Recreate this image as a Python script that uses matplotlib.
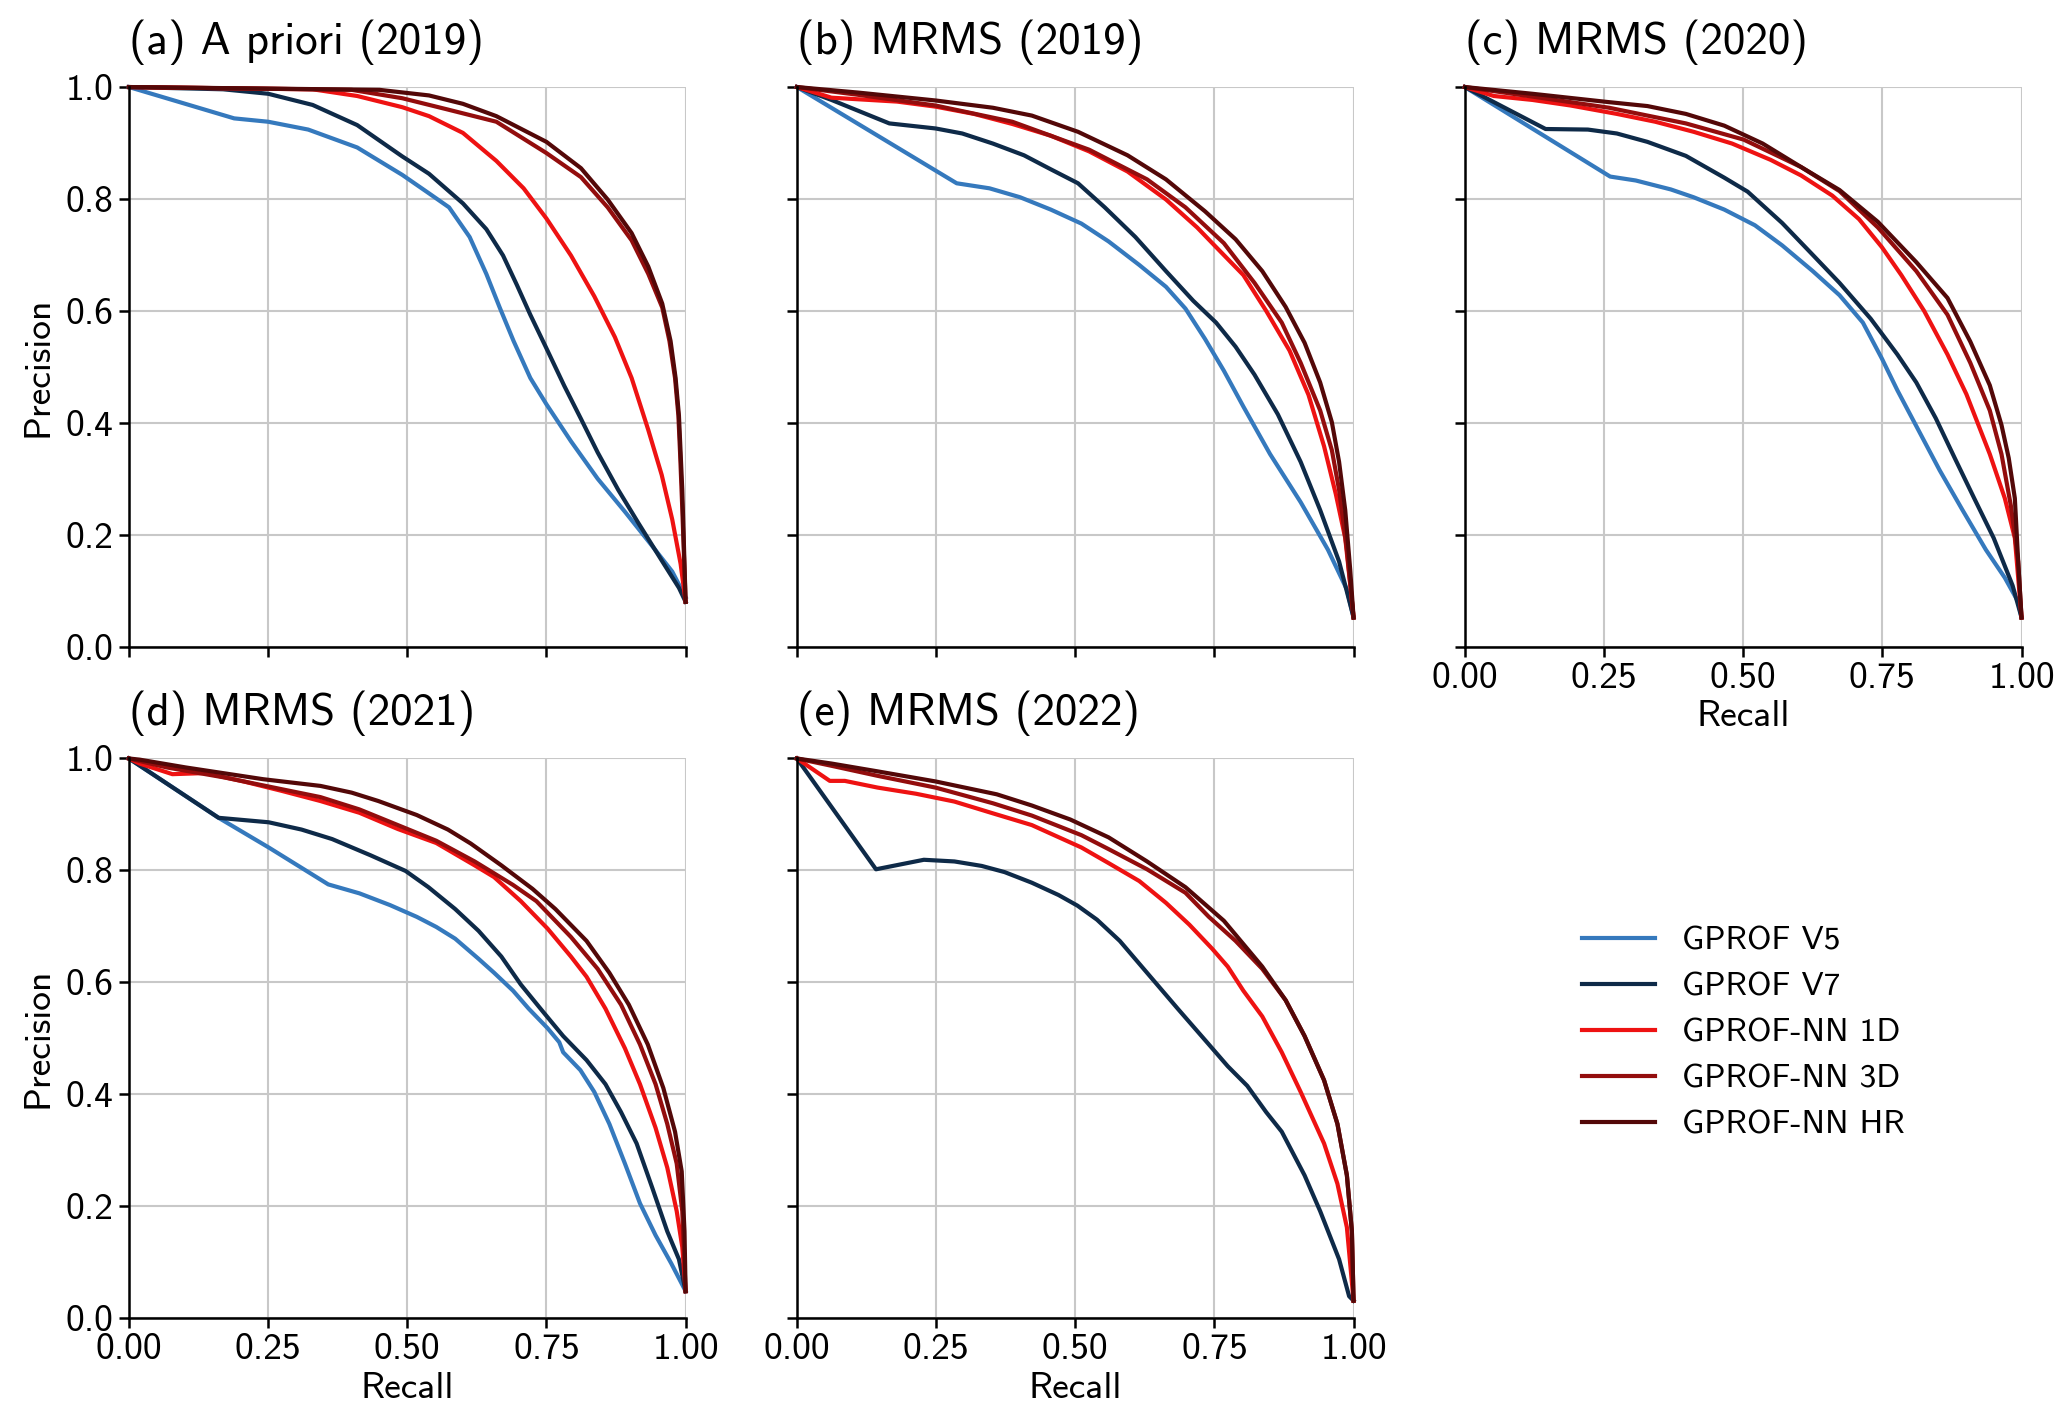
import matplotlib
matplotlib.use("Agg")
import matplotlib.pyplot as plt
import numpy as np

plt.rcParams['font.family'] = ['cmss10', 'DejaVu Sans']
plt.rcParams['axes.unicode_minus'] = False

# legend / colours
names = ["GPROF V5", "GPROF V7", "GPROF-NN 1D", "GPROF-NN 3D", "GPROF-NN HR"]
colors = ["#3579bd", "#0e2a48", "#ee1212", "#930d0d", "#530808"]

titles = ["(a) A priori (2019)", "(b) MRMS (2019)", "(c) MRMS (2020)",
          "(d) MRMS (2021)", "(e) MRMS (2022)"]

# (recall, precision)
# (a) A priori 2019
a_v5 = [(0, 1.0), (0.189, 0.944), (0.25, 0.938), (0.322, 0.924), (0.41, 0.892),
        (0.491, 0.843), (0.539, 0.81), (0.575, 0.785), (0.612, 0.732),
        (0.642, 0.666), (0.666, 0.606), (0.691, 0.546), (0.721, 0.48),
        (0.75, 0.433), (0.794, 0.367), (0.842, 0.30), (0.891, 0.241),
        (0.939, 0.181), (0.976, 0.134), (1.0, 0.088)]
a_v7 = [(0, 1.0), (0.169, 0.996), (0.25, 0.988), (0.33, 0.968), (0.41, 0.932),
        (0.491, 0.876), (0.539, 0.845), (0.60, 0.792), (0.642, 0.746),
        (0.672, 0.699), (0.697, 0.646), (0.721, 0.593), (0.75, 0.533),
        (0.782, 0.466), (0.812, 0.407), (0.842, 0.347), (0.879, 0.28),
        (0.915, 0.221), (0.957, 0.154), (0.988, 0.105), (1.0, 0.08)]
a_1d = [(0, 1.0), (0.33, 0.996), (0.41, 0.984), (0.491, 0.964), (0.539, 0.948),
        (0.60, 0.918), (0.66, 0.868), (0.709, 0.819), (0.75, 0.765),
        (0.794, 0.699), (0.836, 0.626), (0.873, 0.553), (0.903, 0.48),
        (0.933, 0.387), (0.957, 0.307), (0.976, 0.227), (0.991, 0.148), (1.0, 0.08)]
a_3d = [(0, 1.0), (0.40, 0.995), (0.491, 0.98), (0.572, 0.96), (0.66, 0.938),
        (0.75, 0.882), (0.812, 0.839), (0.86, 0.785), (0.903, 0.726),
        (0.933, 0.666), (0.958, 0.606), (0.971, 0.546), (0.981, 0.48),
        (0.987, 0.413), (0.99, 0.347), (0.994, 0.247), (1.0, 0.08)]
a_hr = [(0, 1.0), (0.45, 0.995), (0.539, 0.985), (0.60, 0.97), (0.66, 0.948),
        (0.75, 0.902), (0.812, 0.855), (0.86, 0.799), (0.903, 0.739),
        (0.933, 0.679), (0.958, 0.613), (0.973, 0.546), (0.982, 0.48),
        (0.988, 0.413), (0.991, 0.347), (0.994, 0.28), (0.997, 0.181), (1.0, 0.08)]

# (b) MRMS 2019
b_v5 = [(0, 1.0), (0.287, 0.828), (0.346, 0.819), (0.401, 0.803), (0.456, 0.781),
        (0.511, 0.756), (0.56, 0.724), (0.615, 0.682), (0.663, 0.643),
        (0.698, 0.604), (0.733, 0.55), (0.767, 0.493), (0.802, 0.429),
        (0.85, 0.344), (0.905, 0.258), (0.954, 0.173), (0.988, 0.102), (1.0, 0.052)]
b_v7 = [(0, 1.0), (0.062, 0.977), (0.166, 0.935), (0.249, 0.926), (0.297, 0.917),
        (0.352, 0.899), (0.408, 0.878), (0.456, 0.853), (0.505, 0.828),
        (0.553, 0.785), (0.608, 0.732), (0.663, 0.671), (0.712, 0.618),
        (0.753, 0.579), (0.788, 0.536), (0.822, 0.486), (0.864, 0.415),
        (0.905, 0.33), (0.94, 0.244), (0.974, 0.152), (1.0, 0.052)]
b_1d = [(0, 1.0), (0.062, 0.981), (0.18, 0.974), (0.249, 0.965), (0.318, 0.952),
        (0.387, 0.934), (0.456, 0.913), (0.525, 0.885), (0.594, 0.849),
        (0.663, 0.799), (0.719, 0.749), (0.753, 0.714), (0.802, 0.664),
        (0.843, 0.6), (0.885, 0.529), (0.919, 0.45), (0.947, 0.358),
        (0.968, 0.273), (0.985, 0.194), (0.995, 0.102), (1.0, 0.052)]
b_3d = [(0, 1.0), (0.111, 0.986), (0.249, 0.967), (0.387, 0.938), (0.525, 0.888),
        (0.629, 0.835), (0.698, 0.785), (0.767, 0.721), (0.822, 0.65),
        (0.871, 0.579), (0.905, 0.507), (0.94, 0.422), (0.961, 0.351),
        (0.974, 0.28), (0.988, 0.173), (1.0, 0.052)]
b_hr = [(0, 1.0), (0.111, 0.99), (0.249, 0.976), (0.352, 0.963), (0.422, 0.949),
        (0.505, 0.92), (0.594, 0.878), (0.663, 0.835), (0.733, 0.778),
        (0.788, 0.728), (0.836, 0.671), (0.878, 0.607), (0.912, 0.543),
        (0.94, 0.472), (0.961, 0.401), (0.974, 0.33), (0.985, 0.244),
        (0.994, 0.137), (1.0, 0.052)]

# (c) MRMS 2020
c_v5 = [(0, 1.0), (0.261, 0.84), (0.307, 0.833), (0.37, 0.817), (0.411, 0.803),
        (0.466, 0.781), (0.521, 0.753), (0.57, 0.717), (0.625, 0.671),
        (0.673, 0.628), (0.715, 0.579), (0.749, 0.515), (0.777, 0.458),
        (0.811, 0.394), (0.853, 0.315), (0.894, 0.244), (0.936, 0.173),
        (0.97, 0.123), (0.994, 0.08), (1.0, 0.052)]
c_v7 = [(0, 1.0), (0.145, 0.925), (0.221, 0.924), (0.273, 0.917), (0.328, 0.902),
        (0.397, 0.877), (0.466, 0.838), (0.508, 0.813), (0.57, 0.757),
        (0.625, 0.70), (0.673, 0.65), (0.729, 0.586), (0.777, 0.522),
        (0.811, 0.472), (0.846, 0.408), (0.88, 0.337), (0.915, 0.265),
        (0.95, 0.194), (0.984, 0.109), (1.0, 0.052)]
c_1d = [(0, 1.0), (0.052, 0.984), (0.121, 0.977), (0.19, 0.967), (0.273, 0.952),
        (0.342, 0.938), (0.411, 0.92), (0.48, 0.899), (0.549, 0.87),
        (0.604, 0.842), (0.66, 0.806), (0.708, 0.764), (0.749, 0.714),
        (0.784, 0.664), (0.825, 0.60), (0.867, 0.522), (0.901, 0.451),
        (0.943, 0.344), (0.97, 0.265), (0.988, 0.194), (0.994, 0.123), (1.0, 0.052)]
c_3d = [(0, 1.0), (0.121, 0.983), (0.259, 0.963), (0.397, 0.935), (0.501, 0.906),
        (0.604, 0.857), (0.673, 0.814), (0.742, 0.749), (0.811, 0.671),
        (0.867, 0.593), (0.908, 0.507), (0.943, 0.422), (0.964, 0.344),
        (0.981, 0.251), (0.994, 0.152), (1.0, 0.052)]
c_hr = [(0, 1.0), (0.121, 0.988), (0.259, 0.973), (0.328, 0.966), (0.397, 0.952),
        (0.466, 0.931), (0.535, 0.899), (0.604, 0.857), (0.673, 0.816),
        (0.742, 0.759), (0.811, 0.687), (0.867, 0.623), (0.908, 0.545),
        (0.943, 0.467), (0.964, 0.396), (0.977, 0.337), (0.988, 0.265),
        (0.994, 0.152), (1.0, 0.052)]

# (d) MRMS 2021
d_v5 = [(0, 1.0), (0.161, 0.894), (0.251, 0.841), (0.358, 0.775), (0.414, 0.759),
        (0.469, 0.738), (0.517, 0.717), (0.552, 0.699), (0.586, 0.678),
        (0.628, 0.642), (0.656, 0.617), (0.69, 0.585), (0.718, 0.553),
        (0.752, 0.518), (0.773, 0.493), (0.78, 0.475), (0.811, 0.443),
        (0.836, 0.404), (0.863, 0.347), (0.891, 0.276), (0.918, 0.205),
        (0.946, 0.148), (0.974, 0.098), (1.0, 0.048)]
d_v7 = [(0, 1.0), (0.161, 0.894), (0.251, 0.886), (0.31, 0.873), (0.365, 0.856),
        (0.434, 0.827), (0.497, 0.799), (0.538, 0.77), (0.586, 0.731),
        (0.628, 0.692), (0.669, 0.646), (0.704, 0.596), (0.745, 0.546),
        (0.78, 0.504), (0.822, 0.461), (0.856, 0.418), (0.884, 0.368),
        (0.912, 0.312), (0.94, 0.233), (0.967, 0.155), (0.988, 0.105), (1.0, 0.048)]
d_1d = [(0, 1.0), (0.019, 0.991), (0.078, 0.972), (0.137, 0.974), (0.206, 0.959),
        (0.275, 0.942), (0.344, 0.924), (0.414, 0.903), (0.483, 0.874),
        (0.552, 0.849), (0.621, 0.809), (0.656, 0.788), (0.704, 0.745),
        (0.752, 0.696), (0.794, 0.646), (0.822, 0.61), (0.856, 0.553),
        (0.891, 0.482), (0.918, 0.418), (0.946, 0.34), (0.967, 0.269),
        (0.984, 0.191), (0.994, 0.127), (1.0, 0.048)]
d_3d = [(0, 1.0), (0.068, 0.984), (0.172, 0.966), (0.275, 0.945), (0.344, 0.931),
        (0.414, 0.909), (0.483, 0.881), (0.552, 0.853), (0.621, 0.816),
        (0.69, 0.774), (0.732, 0.745), (0.794, 0.681), (0.842, 0.624),
        (0.884, 0.56), (0.918, 0.489), (0.946, 0.418), (0.967, 0.347),
        (0.984, 0.276), (0.994, 0.191), (1.0, 0.048)]
d_hr = [(0, 1.0), (0.019, 0.998), (0.102, 0.984), (0.241, 0.963), (0.344, 0.951),
        (0.40, 0.939), (0.448, 0.924), (0.517, 0.899), (0.573, 0.873),
        (0.614, 0.848), (0.669, 0.809), (0.725, 0.767), (0.766, 0.731),
        (0.822, 0.674), (0.863, 0.617), (0.898, 0.56), (0.932, 0.489),
        (0.96, 0.411), (0.981, 0.333), (0.993, 0.262), (0.998, 0.155), (1.0, 0.048)]

# (e) MRMS 2022 (no GPROF V5)
e_v5 = None
e_v7 = [(0, 1.0), (0.142, 0.802), (0.228, 0.819), (0.283, 0.816), (0.332, 0.808),
        (0.373, 0.797), (0.422, 0.778), (0.47, 0.756), (0.504, 0.737),
        (0.539, 0.712), (0.58, 0.674), (0.629, 0.617), (0.684, 0.553),
        (0.74, 0.489), (0.774, 0.45), (0.809, 0.415), (0.843, 0.368),
        (0.871, 0.333), (0.912, 0.255), (0.94, 0.191), (0.974, 0.105),
        (0.992, 0.039), (1.0, 0.031)]
e_1d = [(0, 1.0), (0.059, 0.96), (0.086, 0.96), (0.145, 0.948), (0.214, 0.937),
        (0.283, 0.923), (0.352, 0.902), (0.422, 0.881), (0.511, 0.841),
        (0.56, 0.813), (0.615, 0.781), (0.663, 0.742), (0.705, 0.703),
        (0.746, 0.66), (0.774, 0.628), (0.802, 0.585), (0.836, 0.539),
        (0.871, 0.475), (0.905, 0.404), (0.947, 0.312), (0.971, 0.24),
        (0.988, 0.162), (1.0, 0.031)]
e_3d = [(0, 1.0), (0.062, 0.987), (0.145, 0.969), (0.249, 0.948), (0.352, 0.92),
        (0.422, 0.898), (0.511, 0.863), (0.56, 0.838), (0.629, 0.802),
        (0.698, 0.76), (0.74, 0.717), (0.788, 0.674), (0.836, 0.624),
        (0.878, 0.568), (0.912, 0.504), (0.947, 0.425), (0.971, 0.347),
        (0.988, 0.255), (0.997, 0.155), (1.0, 0.031)]
e_hr = [(0, 1.0), (0.062, 0.991), (0.145, 0.977), (0.249, 0.959), (0.359, 0.936),
        (0.422, 0.916), (0.491, 0.891), (0.56, 0.859), (0.629, 0.816),
        (0.698, 0.77), (0.767, 0.71), (0.836, 0.628), (0.878, 0.568),
        (0.912, 0.504), (0.947, 0.425), (0.971, 0.347), (0.988, 0.255),
        (0.997, 0.155), (1.0, 0.031)]

panels = [
    [a_v5, a_v7, a_1d, a_3d, a_hr],
    [b_v5, b_v7, b_1d, b_3d, b_hr],
    [c_v5, c_v7, c_1d, c_3d, c_hr],
    [d_v5, d_v7, d_1d, d_3d, d_hr],
    [e_v5, e_v7, e_1d, e_3d, e_hr],
]

fig, axs = plt.subplots(2, 3, figsize=(20.67, 14.2), dpi=100)
fig.subplots_adjust(left=0.0624, right=0.978, top=0.9387, bottom=0.0718,
                    wspace=0.2, hspace=0.2)
axes = [axs[0, 0], axs[0, 1], axs[0, 2], axs[1, 0], axs[1, 1]]

fs = 27
for i, ax in enumerate(axes):
    for series, name, col in zip(panels[i], names, colors):
        if series is None:
            continue
        pts = np.array(series)
        ax.plot(pts[:, 0], pts[:, 1], color=col, lw=3.0, label=name,
                clip_on=False, solid_joinstyle="round")
    ax.set_xlim(0, 1)
    ax.set_ylim(0, 1)
    ax.set_xticks([0, 0.25, 0.5, 0.75, 1.0])
    ax.set_yticks([0, 0.2, 0.4, 0.6, 0.8, 1.0])
    ax.set_xticklabels(["0.00", "0.25", "0.50", "0.75", "1.00"])
    ax.set_yticklabels(["0.0", "0.2", "0.4", "0.6", "0.8", "1.0"])
    ax.grid(True, color="#c8c8c8", lw=1.5)
    ax.set_axisbelow(True)
    for s in ["top", "right"]:
        ax.spines[s].set_visible(False)
    for s in ["left", "bottom"]:
        ax.spines[s].set_linewidth(1.8)
    ax.tick_params(labelsize=fs, length=7, width=1.8, pad=4)
    ax.set_title(titles[i], loc="left", fontsize=32.5, pad=24)
    if i in (1, 2, 4):
        ax.tick_params(labelleft=False)
    if i in (0, 1):
        ax.tick_params(labelbottom=False)
    if i in (0, 3):
        ax.set_ylabel("Precision", fontsize=fs, labelpad=8)
    if i in (2, 3, 4):
        ax.set_xlabel("Recall", fontsize=fs, labelpad=4)

axs[1, 2].axis("off")
handles, labels = axes[0].get_legend_handles_labels()
axs[1, 2].legend(handles, labels, loc="center", frameon=False, fontsize=24,
                 handlelength=2.2, handletextpad=0.8, labelspacing=0.5,
                 bbox_to_anchor=(0.5, 0.51))

fig.savefig("out.png", dpi=100)
